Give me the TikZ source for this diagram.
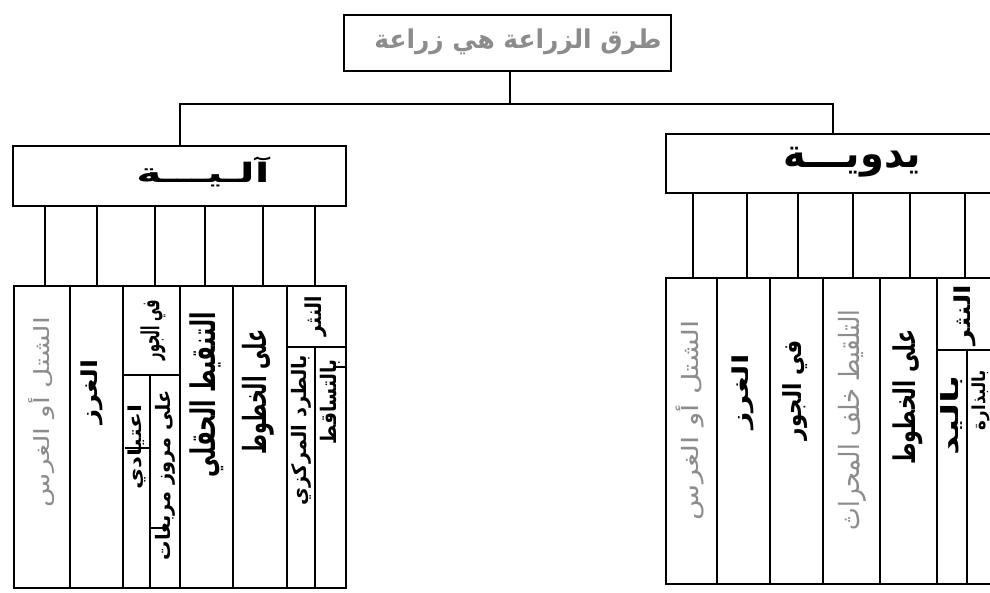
\documentclass[tikz,border=0pt]{standalone}
\usepackage{fontspec}
\usepackage{graphicx}
\newfontfamily\arabicfont[Script=Arabic]{DejaVu Sans}
\TeXXeTstate=1
\newcommand{\fitar}[3]{\resizebox*{#1pt}{#2pt}{\arabicfont #3}}
\newcommand{\fitarb}[3]{\resizebox*{#1pt}{#2pt}{\arabicfont\bfseries #3}}
\tikzset{
  frame/.style={draw, line width=2.2pt, inner sep=0pt, anchor=north west},
  vt/.style={rotate=90, inner sep=0pt},
  ht/.style={inner sep=0pt},
  faded/.style={text=black!45},
  rule/.style={line width=2.2pt}
}
\begin{document}
\begin{tikzpicture}[x=1pt,y=-1pt]
\useasboundingbox (0,0) rectangle (990,593);
\fill[white] (0,0) rectangle (990,593);
\clip (0,0) rectangle (990,593);
% boxes
\node[frame, minimum width=327pt, minimum height=56pt] (top) at (343,14) {};
\node[frame, minimum width=333pt, minimum height=60pt] (lh) at (12,145) {};
\node[frame, minimum width=334pt, minimum height=59pt] (rh) at (665,133) {};
\node[frame, minimum width=332pt, minimum height=302pt] (lt) at (13,285) {};
\node[frame, minimum width=340pt, minimum height=306pt] (rt) at (665,277) {};
% connectors
\coordinate (bar) at (510,104);
\draw[rule] (top.south -| bar) -- (bar);
\draw[rule] (lh.north) |- (bar) -| (rh.north);
\foreach \x in {45,97,155,205,263,315} \draw[rule] (lh.south -| \x,0) -- (lt.north -| \x,0);
\foreach \x in {693,747,798,853,910,965} \draw[rule] (rh.south -| \x,0) -- (rt.north -| \x,0);
% left table inner lines
\foreach \x in {70,123,180,233,287} \draw[rule] (lt.north -| \x,0) -- (lt.south -| \x,0);
\draw[rule] (123,375) -- (180,375);
\draw[rule] (150,375) -- (lt.south -| 150,0);
\draw[rule] (287,347) -- (345,347);
\draw[rule] (315,347) -- (lt.south -| 315,0);
\draw[line width=1.6pt] (125,448) -- (150,448);
\draw[line width=1.6pt] (150,528) -- (165,528);
\draw[line width=1.6pt] (333,367) -- (345,367);
% right table inner lines
\foreach \x in {717,770,823,880,937} \draw[rule] (rt.north -| \x,0) -- (rt.south -| \x,0);
\draw[rule] (937,350) -- (1005,350);
\draw[rule] (967,350) -- (rt.south -| 967,0);
% texts
\node[ht, faded] (ttl) at (518,42) {\fitarb{287}{26}{\beginR طرق الزراعة هي زراعة\endR}};
\node[ht] (lht) at (203,172) {\fitarb{133}{30}{\beginR آلـيـــة\endR}};
\node[ht] (rht) at (852,162) {\fitarb{137}{30}{\beginR يدويـــة\endR}};
% left columns
\node[vt, faded] (l1) at (42,412) {\fitar{190}{26}{\beginR الشتل أو الغرس\endR}};
\node[vt] (l2) at (92,392) {\fitarb{65}{22}{\beginR الغرز\endR}};
\node[vt] (l3a) at (153,330) {\fitarb{60}{25}{\beginR في الجور\endR}};
\node[vt] (l3b) at (137,447) {\fitarb{85}{18}{\beginR اعتيادي\endR}};
\node[vt] (l3c) at (165,475) {\fitarb{170}{20}{\beginR على مروز مربعات\endR}};
\node[vt] (l4) at (207,395) {\fitarb{165}{34}{\beginR التنقيط الحقلي\endR}};
\node[vt] (l5) at (258,392) {\fitarb{125}{32}{\beginR على الخطوط\endR}};
\node[vt] (l6a) at (316,316) {\fitarb{40}{22}{\beginR النثر\endR}};
\node[vt] (l6b) at (301,430) {\fitarb{150}{20}{\beginR بالطرد المركزي\endR}};
\node[vt] (l6c) at (330,402) {\fitarb{85}{20}{\beginR بالتساقط\endR}};
% right columns
\node[vt, faded] (r1) at (690,420) {\fitar{200}{28}{\beginR الشتل أو الغرس\endR}};
\node[vt] (r2) at (743,392) {\fitarb{75}{22}{\beginR الغرز\endR}};
\node[vt] (r3) at (795,390) {\fitarb{100}{25}{\beginR في الجور\endR}};
\node[vt, faded] (r4) at (852,420) {\fitar{220}{28}{\beginR التلقيط خلف المحراث\endR}};
\node[vt] (r5) at (908,397) {\fitarb{135}{30}{\beginR على الخطوط\endR}};
\node[vt] (r6a) at (965,315) {\fitarb{60}{22}{\beginR النثر\endR}};
\node[vt] (r6b) at (952,415) {\fitarb{80}{22}{\beginR باليد\endR}};
\node[vt] (r6c) at (981,400) {\fitarb{60}{18}{\beginR بالبذارة\endR}};
\end{tikzpicture}
\end{document}
